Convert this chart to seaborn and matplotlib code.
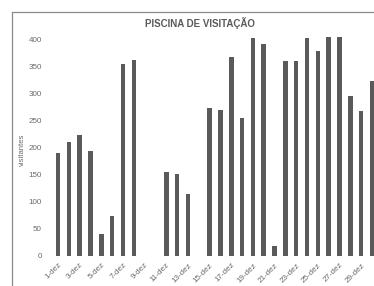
import matplotlib
matplotlib.use("Agg")
import matplotlib.pyplot as plt
import seaborn as sns
import pandas as pd
from matplotlib.lines import Line2D

days = [f"{d}-dez" for d in range(1, 31)]
visitantes = [189, 211, 223, 194, 41, 74, 353, 362, 0, 0,
              155, 151, 114, 0, 273, 269, 366, 255, 402, 391,
              18, 359, 360, 402, 378, 403, 403, 295, 267, 322]
yticks = [0, 50, 100, 150, 200, 250, 300, 350, 400]
title = "PISCINA DE VISITAÇÃO"
ylabel = "visitantes"

df = pd.DataFrame({"dia": days, "visitantes": visitantes})

sns.set_style("white")
plt.rcParams['font.family'] = ['Liberation Sans', 'DejaVu Sans']

W, H = 374, 286
fig = plt.figure(figsize=(W / 100, H / 100), dpi=100)
fig.patch.set_facecolor("white")

# frame around chart (only top and left edges visible, as in the reference)
fx, fy = 11.5 / W, 1 - 12 / H
fig.add_artist(Line2D([fx, 1.0], [fy, fy], transform=fig.transFigure,
                      color="#8a8a8a", linewidth=0.9))
fig.add_artist(Line2D([fx, fx], [0.0, fy], transform=fig.transFigure,
                      color="#8a8a8a", linewidth=0.9))

px_unit = 10.83
ax_left_px = 50
x0 = -(58 - ax_left_px) / px_unit
ax_right_px = 390
x1 = 29 + (ax_right_px - 372) / px_unit
bottom_px = 256
ymax = 415
py_unit = 217 / 400
ax_h_px = ymax * py_unit
ax = fig.add_axes([ax_left_px / W, 1 - bottom_px / H,
                   (ax_right_px - ax_left_px) / W, ax_h_px / H])

sns.barplot(data=df, x="dia", y="visitantes", ax=ax, color="#5a5a5a",
            width=0.42, linewidth=0, saturation=1)
ax.set_xlim(x0, x1)
ax.set_ylim(0, ymax)
for s in ax.spines.values():
    s.set_visible(False)
ax.set_yticks(yticks)
ax.set_yticklabels([str(v) for v in yticks], fontsize=5.8, color="#6a6a6a")
ax.set_xticks(range(0, 30, 2))
ax.set_xticklabels(days[::2], rotation=45, ha="right", rotation_mode="anchor",
                   fontsize=5.8, color="#6a6a6a")
ax.tick_params(axis="x", length=0, pad=4)
ax.tick_params(axis="y", length=0, pad=6)
ax.set_xlabel("")
ax.set_ylabel("")

fig.text(200 / W, 1 - 23 / H, title, ha="center", va="center",
         fontsize=7, fontweight="bold", color="#5a5a5a")
fig.text(22 / W, 1 - 150 / H, ylabel, ha="center", va="center",
         rotation=90, fontsize=5.5, color="#6a6a6a")

fig.savefig("out.png", dpi=100)
